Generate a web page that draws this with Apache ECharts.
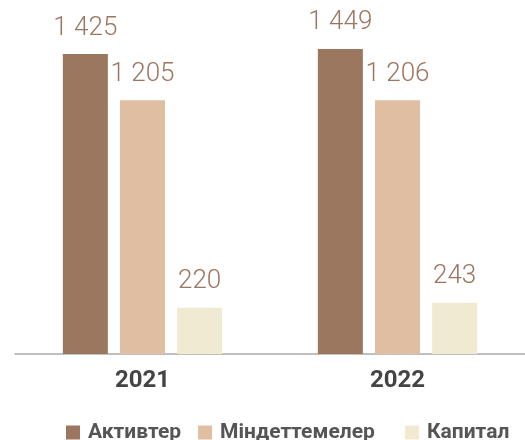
<!DOCTYPE html>
<html><head><meta charset="utf-8">
<script src="https://cdn.jsdelivr.net/npm/echarts@6/dist/echarts.min.js"></script>
<style>html,body{margin:0;padding:0;background:#fff}#c{width:525px;height:440px}</style>
</head><body><div id="c"></div>
<script>
const categories = ['2021', '2022'];
const seriesNames = ['Активтер', 'Міндеттемелер', 'Капитал'];
const assets = [1425, 1449];
const liabilities = [1205, 1206];
const capital = [220, 243];
const colors = ['#9b7760', '#dfbea2', '#f1ead2'];

const fmt = v => String(v).replace(/\B(?=(\d{3})+(?!\d))/g, ' ');
const label = {
  show: true, position: 'top', distance: 13,
  color: '#9b7660', fontFamily: 'Roboto', fontWeight: 300, fontSize: 26,
  formatter: p => fmt(p.value)
};
const legendText = { color: '#555', fontFamily: 'Roboto', fontWeight: 'bold', fontSize: 21, lineHeight: 16, padding: [0,0,0,3] };
const chart = echarts.init(document.getElementById('c'));
const data = [assets, liabilities, capital];
chart.setOption({
  animation: false,
  grid: { left: 15, right: -5, top: 17.2, bottom: 86 },
  xAxis: {
    type: 'category', data: categories,
    axisLine: { lineStyle: { color: '#aaaaaa', width: 1.5 } },
    axisTick: { show: false },
    axisLabel: { color: '#444', fontFamily: 'Roboto', fontWeight: 'bold', fontSize: 24, margin: 15 }
  },
  yAxis: { type: 'value', min: 0, max: 1600, show: false, splitLine: { show: false } },
  legend: [
    { data: [seriesNames[0], seriesNames[1]], left: 66, top: 422, padding: 0, itemWidth: 14, itemHeight: 14, itemGap: 17,
      icon: 'rect', textStyle: legendText },
    { data: [seriesNames[2]], left: 405, top: 422, padding: 0, itemWidth: 14, itemHeight: 14,
      icon: 'rect', textStyle: legendText }
  ],
  series: seriesNames.map((n, i) => ({
    name: n, type: 'bar', data: data[i], barWidth: 45, barGap: '27%',
    itemStyle: { color: colors[i] }, label: label
  }))
});
</script></body></html>
